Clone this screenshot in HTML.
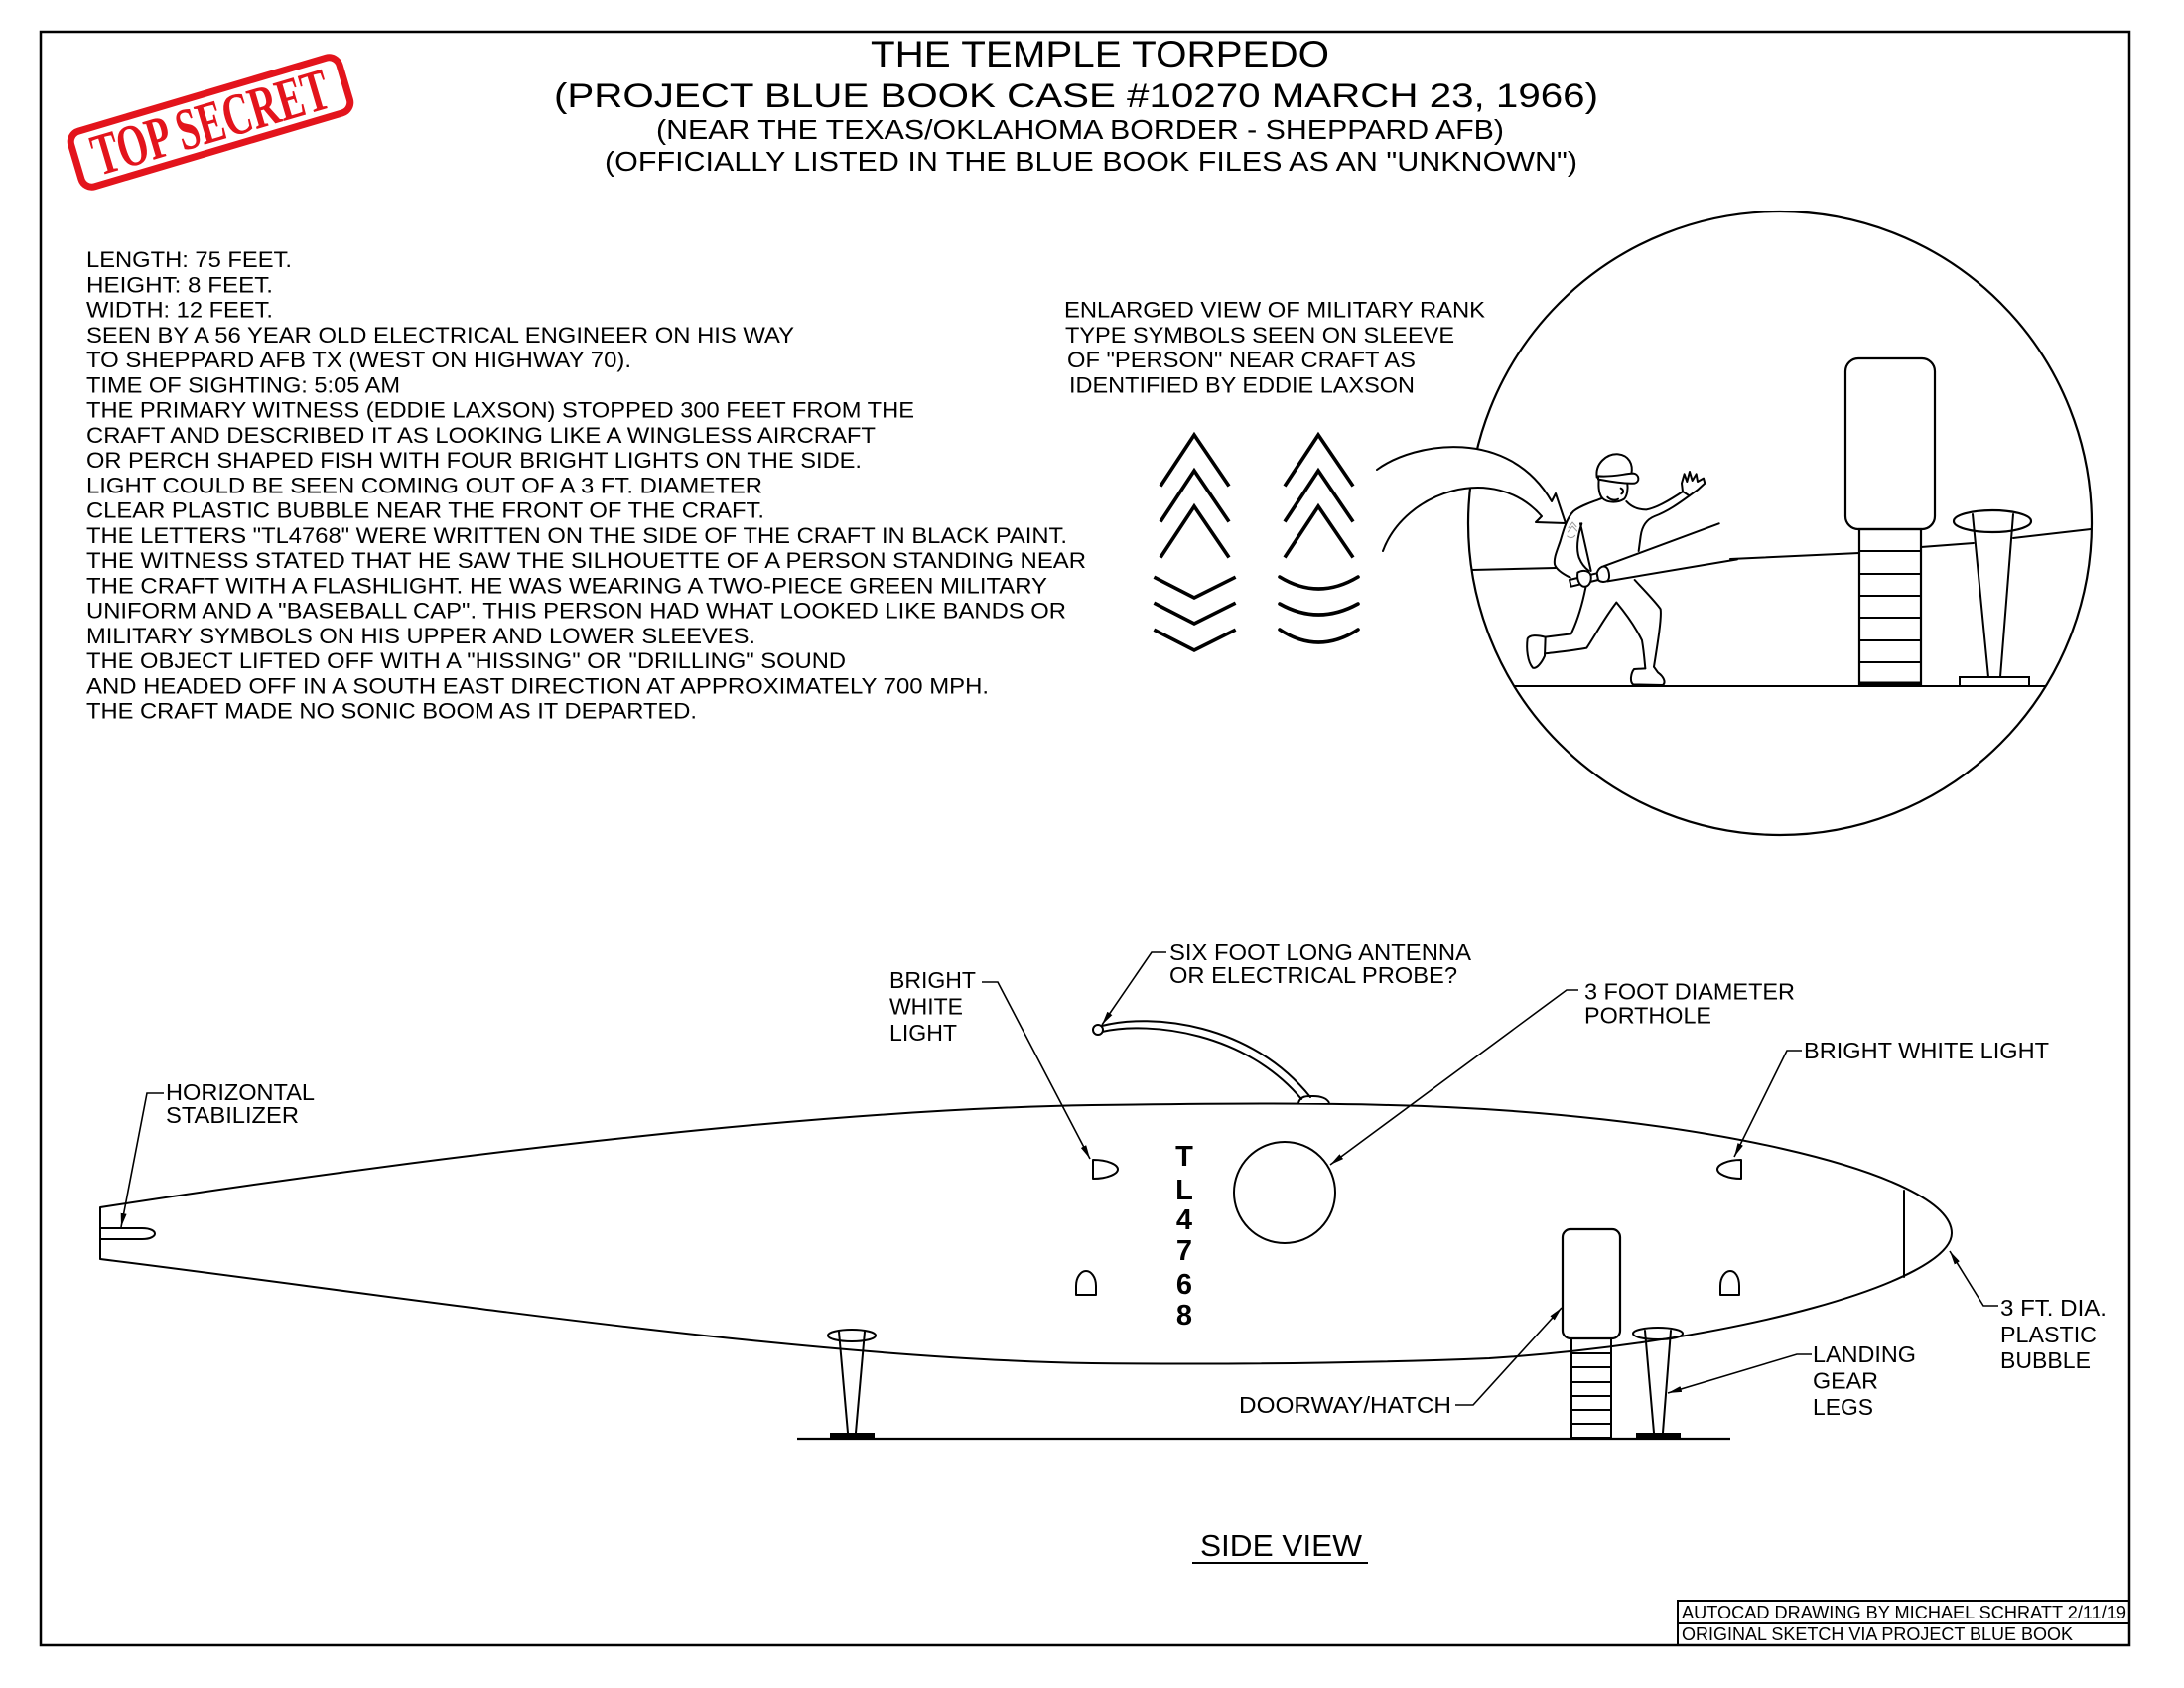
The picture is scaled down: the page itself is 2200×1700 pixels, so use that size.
<!DOCTYPE html>
<html>
<head>
<meta charset="utf-8">
<style>
html,body{margin:0;padding:0;background:#fff;}
svg{display:block;}
.t{font-family:"Liberation Sans",Arial,sans-serif;fill:#000;}
.ln{fill:none;stroke:#000;stroke-width:2;stroke-linejoin:round;stroke-linecap:round;}
.ld{fill:none;stroke:#000;stroke-width:1.6;}
.ch{fill:none;stroke:#000;stroke-width:3.6;stroke-linecap:square;}
</style>
</head>
<body>
<svg width="2200" height="1700" viewBox="0 0 2200 1700" xmlns="http://www.w3.org/2000/svg">
<defs>
<marker id="ah" viewBox="0 0 14 6" refX="14" refY="3" markerWidth="14" markerHeight="6" markerUnits="userSpaceOnUse" orient="auto">
<path d="M0,0 L14,3 L0,6 z" fill="#000"/>
</marker>
</defs>
<rect width="2200" height="1700" fill="#fff"/>

<!-- border -->
<rect x="41" y="32" width="2104" height="1625" fill="none" stroke="#000" stroke-width="2.5"/>

<!-- TOP SECRET stamp -->
<g transform="translate(212,123) rotate(-16.5)">
<rect x="-141" y="-29" width="282" height="58" rx="11" fill="none" stroke="#e3141c" stroke-width="7"/>
<text x="0" y="20" text-anchor="middle" font-family="'Liberation Serif',serif" font-weight="bold" font-size="60" fill="#e3141c" textLength="246" lengthAdjust="spacingAndGlyphs">TOP SECRET</text>
</g>

<!-- Title -->
<text class="t" x="877" y="67" font-size="37" textLength="462" lengthAdjust="spacingAndGlyphs">THE TEMPLE TORPEDO</text>
<text class="t" x="558" y="108" font-size="34" textLength="1052" lengthAdjust="spacingAndGlyphs">(PROJECT BLUE BOOK CASE #10270 MARCH 23, 1966)</text>
<text class="t" x="661" y="140" font-size="28" textLength="854" lengthAdjust="spacingAndGlyphs">(NEAR THE TEXAS/OKLAHOMA BORDER - SHEPPARD AFB)</text>
<text class="t" x="609" y="172" font-size="28" textLength="980" lengthAdjust="spacingAndGlyphs">(OFFICIALLY LISTED IN THE BLUE BOOK FILES AS AN &quot;UNKNOWN&quot;)</text>

<!-- Left text block -->
<g class="t" font-size="22">
<text x="87" y="269" textLength="207" lengthAdjust="spacingAndGlyphs">LENGTH: 75 FEET.</text>
<text x="87" y="294.25" textLength="188" lengthAdjust="spacingAndGlyphs">HEIGHT: 8 FEET.</text>
<text x="87" y="319.5" textLength="188" lengthAdjust="spacingAndGlyphs">WIDTH: 12 FEET.</text>
<text x="87" y="344.75" textLength="713" lengthAdjust="spacingAndGlyphs">SEEN BY A 56 YEAR OLD ELECTRICAL ENGINEER ON HIS WAY</text>
<text x="87" y="370" textLength="549" lengthAdjust="spacingAndGlyphs">TO SHEPPARD AFB TX (WEST ON HIGHWAY 70).</text>
<text x="87" y="395.25" textLength="316" lengthAdjust="spacingAndGlyphs">TIME OF SIGHTING: 5:05 AM</text>
<text x="87" y="420.5" textLength="834" lengthAdjust="spacingAndGlyphs">THE PRIMARY WITNESS (EDDIE LAXSON) STOPPED 300 FEET FROM THE</text>
<text x="87" y="445.75" textLength="795" lengthAdjust="spacingAndGlyphs">CRAFT AND DESCRIBED IT AS LOOKING LIKE A WINGLESS AIRCRAFT</text>
<text x="87" y="471" textLength="781" lengthAdjust="spacingAndGlyphs">OR PERCH SHAPED FISH WITH FOUR BRIGHT LIGHTS ON THE SIDE.</text>
<text x="87" y="496.25" textLength="681" lengthAdjust="spacingAndGlyphs">LIGHT COULD BE SEEN COMING OUT OF A 3 FT. DIAMETER</text>
<text x="87" y="521.5" textLength="683" lengthAdjust="spacingAndGlyphs">CLEAR PLASTIC BUBBLE NEAR THE FRONT OF THE CRAFT.</text>
<text x="87" y="546.75" textLength="988" lengthAdjust="spacingAndGlyphs">THE LETTERS &quot;TL4768&quot; WERE WRITTEN ON THE SIDE OF THE CRAFT IN BLACK PAINT.</text>
<text x="87" y="572" textLength="1007" lengthAdjust="spacingAndGlyphs">THE WITNESS STATED THAT HE SAW THE SILHOUETTE OF A PERSON STANDING NEAR</text>
<text x="87" y="597.25" textLength="968" lengthAdjust="spacingAndGlyphs">THE CRAFT WITH A FLASHLIGHT. HE WAS WEARING A TWO-PIECE GREEN MILITARY</text>
<text x="87" y="622.5" textLength="987" lengthAdjust="spacingAndGlyphs">UNIFORM AND A &quot;BASEBALL CAP&quot;. THIS PERSON HAD WHAT LOOKED LIKE BANDS OR</text>
<text x="87" y="647.75" textLength="674" lengthAdjust="spacingAndGlyphs">MILITARY SYMBOLS ON HIS UPPER AND LOWER SLEEVES.</text>
<text x="87" y="673" textLength="765" lengthAdjust="spacingAndGlyphs">THE OBJECT LIFTED OFF WITH A &quot;HISSING&quot; OR &quot;DRILLING&quot; SOUND</text>
<text x="87" y="698.25" textLength="909" lengthAdjust="spacingAndGlyphs">AND HEADED OFF IN A SOUTH EAST DIRECTION AT APPROXIMATELY 700 MPH.</text>
<text x="87" y="723.5" textLength="615" lengthAdjust="spacingAndGlyphs">THE CRAFT MADE NO SONIC BOOM AS IT DEPARTED.</text>
</g>

<!-- Enlarged view text -->
<g class="t" font-size="22">
<text x="1072" y="319.5" textLength="424" lengthAdjust="spacingAndGlyphs">ENLARGED VIEW OF MILITARY RANK</text>
<text x="1073" y="344.75" textLength="392" lengthAdjust="spacingAndGlyphs">TYPE SYMBOLS SEEN ON SLEEVE</text>
<text x="1075" y="370" textLength="351" lengthAdjust="spacingAndGlyphs">OF &quot;PERSON&quot; NEAR CRAFT AS</text>
<text x="1077" y="395.25" textLength="348" lengthAdjust="spacingAndGlyphs">IDENTIFIED BY EDDIE LAXSON</text>
</g>

<!-- Chevrons -->
<g class="ch">
<polyline points="1170,488 1203,438 1237,488"/>
<polyline points="1170,524 1203,474 1237,524"/>
<polyline points="1170,560 1203,510 1237,560"/>
<polyline points="1164,582 1203,602 1243,582"/>
<polyline points="1164,608 1203,628 1243,608"/>
<polyline points="1164,635 1203,655 1243,635"/>
<polyline points="1295,488 1328,438 1362,488"/>
<polyline points="1295,524 1328,474 1362,524"/>
<polyline points="1295,560 1328,510 1362,560"/>
<path d="M1289,581 Q1328,605 1368,581" stroke-linecap="round"/>
<path d="M1289,608 Q1328,630 1368,608" stroke-linecap="round"/>
<path d="M1289,634 Q1328,660 1368,634" stroke-linecap="round"/>
</g>

<!-- Enlarged circle -->
<circle cx="1793" cy="527" r="314" fill="none" stroke="#000" stroke-width="2.2"/>

<!-- ground & horizon in circle -->
<line class="ln" x1="1526" y1="691" x2="2060" y2="691"/>
<line class="ln" x1="1483" y1="574" x2="1567" y2="572"/>
<line class="ln" x1="1743" y1="563" x2="1873" y2="557"/>
<line class="ln" x1="1935" y1="551" x2="1988" y2="547"/>
<line class="ln" x1="2028" y1="542" x2="2106" y2="533"/>

<!-- door + ladder in circle -->
<rect x="1859" y="361" width="90" height="172" rx="13" fill="#fff" stroke="#000" stroke-width="2.2"/>
<rect x="1873" y="533" width="62" height="156" fill="none" stroke="#000" stroke-width="2.2"/>
<g class="ln">
<line x1="1873" y1="555" x2="1935" y2="555"/>
<line x1="1873" y1="578" x2="1935" y2="578"/>
<line x1="1873" y1="600" x2="1935" y2="600"/>
<line x1="1873" y1="622" x2="1935" y2="622"/>
<line x1="1873" y1="645" x2="1935" y2="645"/>
<line x1="1873" y1="667" x2="1935" y2="667"/>
</g>
<line x1="1873" y1="688" x2="1935" y2="688" stroke="#000" stroke-width="3"/>

<!-- landing leg in circle -->
<ellipse cx="2007" cy="525" rx="39" ry="11" fill="none" stroke="#000" stroke-width="2.2"/>
<line class="ln" x1="1987" y1="518" x2="2003" y2="682"/>
<line class="ln" x1="2028" y1="518" x2="2015" y2="682"/>
<rect x="1974" y="682" width="70" height="9" fill="#fff" stroke="#000" stroke-width="2"/>

<!-- curved arrow -->
<path d="M1387,473 C1425,445 1520,430 1563,505 L1567,497 L1577,527 L1547,526 L1553,520 C1505,465 1415,495 1393,555 Z" fill="#fff" stroke="none"/>
<path class="ln" d="M1387,473 C1425,445 1520,430 1563,505 L1567,497 L1577,527 L1547,526 L1553,520 C1505,465 1415,495 1393,555"/>

<!-- person -->
<g transform="translate(1380,440) scale(0.33333)" fill="none" stroke="#000" stroke-width="6" stroke-linejoin="round" stroke-linecap="round">
<path d="M718,436 L1110,370" />
<path d="M706,391 L1055,262" />
<path d="M686,122 C680,80 715,50 750,52 C782,55 796,82 790,112" fill="#fff"/>
<path d="M690,118 C730,122 765,112 795,110 C815,112 816,136 800,140 C770,142 730,135 690,128 Z" fill="#fff"/>
<path d="M692,128 C690,150 692,172 702,185 C715,198 745,202 768,188 C778,178 780,155 778,142"/>
<path d="M718,182 C728,192 742,193 750,188"/>
<path d="M758,155 C766,158 768,168 760,172"/>
<path d="M702,185 C680,195 640,205 615,225 C595,245 585,280 575,315 C565,345 555,365 558,385 C562,400 585,415 605,425"/>
<path d="M640,262 C628,300 622,335 632,365 C640,385 652,398 662,405"/>
<path d="M636,262 L668,405"/>
<path d="M775,195 C790,212 810,220 835,220 C865,215 900,195 950,162"/>
<path d="M945,165 L942,140 L950,112 L958,135 L966,105 L974,132 L986,112 L990,135 L1008,125 L1012,140 L990,160 L965,178 Z" fill="#fff"/>
<path d="M965,178 C935,200 900,225 860,240 C835,250 822,270 818,300 L812,345"/>
<path d="M603,432 L608,452 L690,432 L686,412 Z" fill="#fff"/>
<path d="M686,412 C690,398 700,390 710,392 C722,395 728,425 718,435 C708,440 695,438 690,432 Z" fill="#fff"/>
<path d="M628,410 C645,400 665,405 668,420 C670,440 660,455 645,452 C632,448 625,430 628,410 Z" fill="#fff"/>
<path d="M652,455 C645,490 632,545 608,595 L530,605"/>
<path d="M530,605 C505,598 482,598 476,610 C472,640 476,680 492,698 C505,702 520,680 528,662 Z"/>
<path d="M528,655 C570,650 620,645 655,638 C680,600 710,545 745,500"/>
<path d="M745,500 C770,530 800,570 822,615 C828,650 830,680 832,700"/>
<path d="M800,432 C830,465 860,495 878,520 C882,545 870,620 858,695"/>
<path d="M832,700 L798,702 C788,715 785,740 795,748 L885,750 C895,742 888,725 870,712 L858,695"/>
<g stroke="#999" stroke-width="3">
<path d="M600,275 L612,258 L624,272"/>
<path d="M598,288 L612,270 L626,285"/>
<path d="M596,300 C605,308 615,305 620,298"/>
</g>
</g>

<!-- ===== SIDE VIEW torpedo ===== -->
<line x1="803" y1="1449" x2="1743" y2="1449" stroke="#000" stroke-width="2.2"/>

<path class="ln" d="M101,1216 C400,1170 800,1118 1100,1113 C1250,1111 1330,1111 1400,1113 C1700,1120 1966,1180 1966,1242 C1966,1290 1750,1352 1500,1368 C1350,1374 1200,1374 1100,1373 C800,1368 400,1305 101,1268 Z"/>
<line class="ln" x1="1918" y1="1199" x2="1918" y2="1286"/>
<path class="ln" d="M101,1237 L143,1237 C152,1237 156,1240 156,1242.5 C156,1245 152,1248 143,1248 L101,1248"/>

<!-- antenna -->
<path d="M1308,1111 C1310,1103 1318,1104 1323,1104 C1330,1104 1337,1106 1339,1111" fill="#fff" stroke="#000" stroke-width="2"/>
<path class="ln" d="M1110,1033 C1160,1020 1260,1030 1320,1105"/>
<path class="ln" d="M1110,1039 C1160,1028 1255,1040 1311,1107"/>
<circle cx="1106" cy="1037" r="5" fill="#fff" stroke="#000" stroke-width="2"/>

<!-- lights -->
<path class="ln" d="M1101,1168 C1116,1168 1126,1173 1126,1177.5 C1126,1182 1116,1187 1101,1187 Z"/>
<path class="ln" d="M1084,1304 L1084,1295 C1084,1286 1089,1280 1094,1280 C1099,1280 1104,1286 1104,1295 L1104,1304 Z"/>
<path class="ln" d="M1754,1168 C1740,1168 1730,1173 1730,1177.5 C1730,1182 1740,1187 1754,1187 Z"/>
<path class="ln" d="M1733,1304 L1733,1295 C1733,1286 1738,1280 1743,1280 C1748,1280 1752,1286 1752,1295 L1752,1304 Z"/>

<!-- porthole -->
<circle cx="1294" cy="1201" r="51" fill="none" stroke="#000" stroke-width="2"/>

<!-- TL4768 -->
<g class="t" font-size="29" font-weight="bold" text-anchor="middle">
<text x="1193" y="1174">T</text>
<text x="1193" y="1208">L</text>
<text x="1193" y="1238">4</text>
<text x="1193" y="1269">7</text>
<text x="1193" y="1303">6</text>
<text x="1193" y="1334">8</text>
</g>

<!-- hatch -->
<rect x="1574" y="1238" width="58" height="110" rx="8" fill="#fff" stroke="#000" stroke-width="2.2"/>
<rect x="1583" y="1348" width="40" height="100" fill="none" stroke="#000" stroke-width="2"/>
<g class="ln">
<line x1="1583" y1="1363" x2="1623" y2="1363"/>
<line x1="1583" y1="1377" x2="1623" y2="1377"/>
<line x1="1583" y1="1392" x2="1623" y2="1392"/>
<line x1="1583" y1="1406" x2="1623" y2="1406"/>
<line x1="1583" y1="1420" x2="1623" y2="1420"/>
<line x1="1583" y1="1434" x2="1623" y2="1434"/>
</g>

<!-- landing gear left -->
<ellipse cx="858" cy="1345" rx="24" ry="6" fill="none" stroke="#000" stroke-width="2"/>
<line class="ln" x1="845" y1="1341" x2="854" y2="1443"/>
<line class="ln" x1="871" y1="1341" x2="862" y2="1443"/>
<rect x="836" y="1443" width="45" height="6" fill="#000"/>
<!-- landing gear right -->
<ellipse cx="1670" cy="1343" rx="25" ry="6" fill="none" stroke="#000" stroke-width="2"/>
<line class="ln" x1="1657" y1="1340" x2="1666" y2="1443"/>
<line class="ln" x1="1683" y1="1340" x2="1675" y2="1443"/>
<rect x="1648" y="1443" width="45" height="6" fill="#000"/>

<!-- leaders -->
<g class="ld" marker-end="url(#ah)">
<polyline points="165,1101 148,1101 122,1236"/>
<polyline points="989,989 1005,989 1098,1167"/>
<polyline points="1175,959 1160,959 1110,1032"/>
<polyline points="1590,997 1578,997 1340,1173"/>
<polyline points="1815,1058 1800,1058 1747,1165"/>
<polyline points="2013,1315 1998,1315 1964,1260"/>
<polyline points="1825,1364 1810,1364 1680,1403"/>
<polyline points="1466,1415 1484,1415 1573,1317"/>
</g>

<!-- labels -->
<g class="t" font-size="23">
<text x="167" y="1108" textLength="150" lengthAdjust="spacingAndGlyphs">HORIZONTAL</text>
<text x="167" y="1131" textLength="134" lengthAdjust="spacingAndGlyphs">STABILIZER</text>
<text x="896" y="995" textLength="87" lengthAdjust="spacingAndGlyphs">BRIGHT</text>
<text x="896" y="1021.5" textLength="74" lengthAdjust="spacingAndGlyphs">WHITE</text>
<text x="896" y="1048" textLength="68" lengthAdjust="spacingAndGlyphs">LIGHT</text>
<text x="1178" y="967" textLength="304" lengthAdjust="spacingAndGlyphs">SIX FOOT LONG ANTENNA</text>
<text x="1178" y="990" textLength="290" lengthAdjust="spacingAndGlyphs">OR ELECTRICAL PROBE?</text>
<text x="1596" y="1006.5" textLength="212" lengthAdjust="spacingAndGlyphs">3 FOOT DIAMETER</text>
<text x="1596" y="1030.5" textLength="128" lengthAdjust="spacingAndGlyphs">PORTHOLE</text>
<text x="1817" y="1066" textLength="247" lengthAdjust="spacingAndGlyphs">BRIGHT WHITE LIGHT</text>
<text x="2015" y="1325" textLength="107" lengthAdjust="spacingAndGlyphs">3 FT. DIA.</text>
<text x="2015" y="1352" textLength="97" lengthAdjust="spacingAndGlyphs">PLASTIC</text>
<text x="2015" y="1378" textLength="91" lengthAdjust="spacingAndGlyphs">BUBBLE</text>
<text x="1826" y="1372" textLength="104" lengthAdjust="spacingAndGlyphs">LANDING</text>
<text x="1826" y="1398.5" textLength="66" lengthAdjust="spacingAndGlyphs">GEAR</text>
<text x="1826" y="1425" textLength="61" lengthAdjust="spacingAndGlyphs">LEGS</text>
<text x="1248" y="1423" textLength="214" lengthAdjust="spacingAndGlyphs">DOORWAY/HATCH</text>
</g>

<!-- SIDE VIEW -->
<text class="t" x="1209" y="1567" font-size="31" textLength="163" lengthAdjust="spacingAndGlyphs">SIDE VIEW</text>
<line x1="1201" y1="1574" x2="1378" y2="1574" stroke="#000" stroke-width="2"/>

<!-- credits box -->
<rect x="1690" y="1612" width="455" height="45" fill="none" stroke="#000" stroke-width="2"/>
<line x1="1690" y1="1635" x2="2145" y2="1635" stroke="#000" stroke-width="2"/>
<text class="t" x="1694" y="1630" font-size="18.5" textLength="448" lengthAdjust="spacingAndGlyphs">AUTOCAD DRAWING BY MICHAEL SCHRATT 2/11/19</text>
<text class="t" x="1694" y="1652" font-size="18.5" textLength="394" lengthAdjust="spacingAndGlyphs">ORIGINAL SKETCH VIA PROJECT BLUE BOOK</text>
</svg>
</body>
</html>
